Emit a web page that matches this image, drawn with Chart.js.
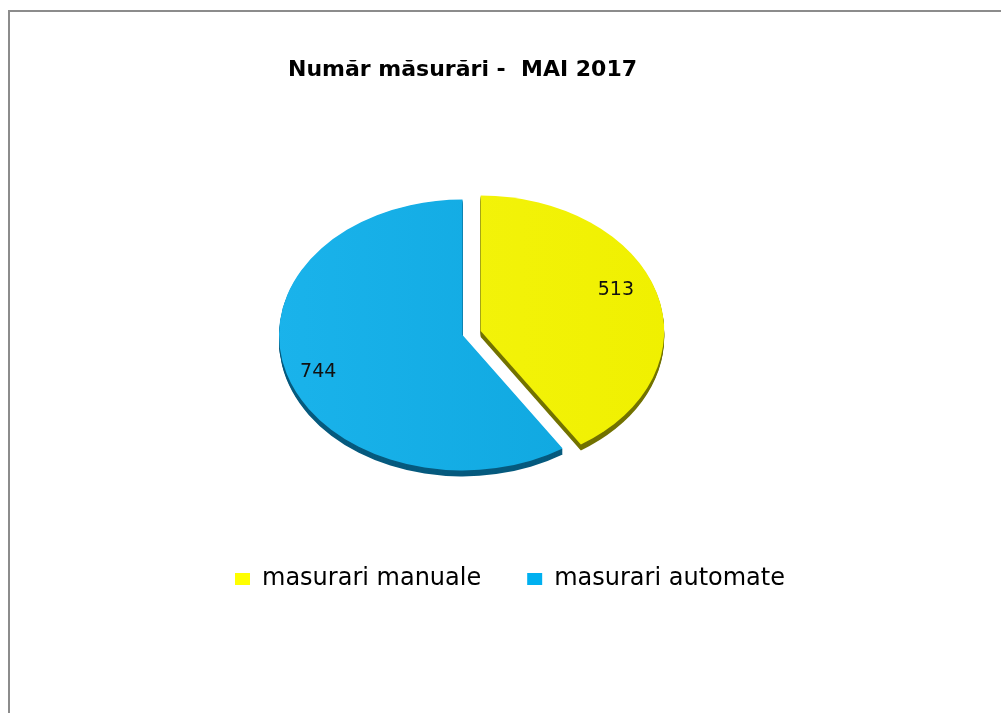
<!DOCTYPE html>
<html><head><meta charset="utf-8">
<script src="https://cdn.jsdelivr.net/npm/chart.js@4.4.0/dist/chart.umd.min.js"></script>
<style>
html,body{margin:0;padding:0;background:#fff;}
#wrap{position:relative;width:1001px;height:713px;overflow:hidden;background:#fff;}
#frame{position:absolute;left:8px;top:10px;width:1100px;height:800px;border-left:2px solid #8c8c8c;border-top:2px solid #8c8c8c;}
canvas{position:absolute;left:0;top:0;}
</style></head><body>
<div id="wrap"><div id="frame"></div><canvas id="c" width="1001" height="713"></canvas></div>
<script>
// ---- data ----
const categories = ['masurari manuale', 'masurari automate'];
const values = [513, 744];
const titleText = 'Număr măsurări -  MAI 2017';

// ---- styles ----
const faceColors = ['#f0f000', '#0ea6de'];
const faceLight = ['#f5f512', '#1ab3eb'];
const sideColors = ['#727200', '#065a7e'];
const legendColors = ['#ffff00', '#00b0f0'];
const explodeDist = [19, 0];
const labelRadius = [0.796, 0.833];
const labelAngleShift = [-5.7, -2.7];
const squash = 0.738;
const depth = 6;

function explodeVec(arc, i) {
  const p = arc.getProps(['startAngle', 'endAngle']);
  const mid = (p.startAngle + p.endAngle) / 2;
  return { x: Math.cos(mid) * explodeDist[i], y: Math.sin(mid) * explodeDist[i] };
}

const pie3d = {
  id: 'pie3d',
  beforeDatasetsDraw(chart) {
    const arcs = chart.getDatasetMeta(0).data;
    const ctx = chart.ctx;
    const cy = arcs[0].y;
    arcs.forEach((arc, i) => {
      if (!arc._exploded) {
        const orig = arc.draw;
        arc.draw = function (c) {
          const v = explodeVec(this, i);
          c.save(); c.translate(v.x, v.y); orig.call(this, c); c.restore();
        };
        arc._exploded = true;
      }
    });
    ctx.save();
    ctx.translate(0, cy); ctx.scale(1, squash); ctx.translate(0, -cy);
    for (let d = depth; d >= 1; d--) {
      arcs.forEach((arc, i) => {
        const p = arc.getProps(['x', 'y', 'startAngle', 'endAngle', 'outerRadius']);
        const v = explodeVec(arc, i);
        const ox = p.x + v.x;
        const oy = p.y + v.y + d / squash;
        ctx.beginPath();
        ctx.moveTo(ox, oy);
        ctx.arc(ox, oy, p.outerRadius, p.startAngle, p.endAngle);
        ctx.closePath();
        ctx.fillStyle = sideColors[i];
        ctx.fill();
      });
    }
  },
  afterDatasetsDraw(chart) {
    const ctx = chart.ctx;
    ctx.restore();
    const arcs = chart.getDatasetMeta(0).data;
    const cy = arcs[0].y;
    ctx.save();
    ctx.font = '19px "DejaVu Sans"';
    ctx.fillStyle = '#111';
    ctx.textAlign = 'center';
    ctx.textBaseline = 'middle';
    arcs.forEach((arc, i) => {
      const p = arc.getProps(['x', 'y', 'startAngle', 'endAngle', 'outerRadius']);
      const v = explodeVec(arc, i);
      const ang = (p.startAngle + p.endAngle) / 2 + labelAngleShift[i] * Math.PI / 180;
      const r = p.outerRadius * labelRadius[i];
      const lx = p.x + v.x + Math.cos(ang) * r;
      const ly = cy + (p.y + v.y + Math.sin(ang) * r - cy) * squash;
      ctx.fillText(String(values[i]), lx, ly);
    });
    ctx.restore();
  }
};

function faceFill(c) {
  const chart = c.chart;
  const i = c.dataIndex;
  const a = chart.chartArea;
  if (!a) return faceColors[i];
  const cx = (a.left + a.right) / 2;
  const g = chart.ctx.createLinearGradient(cx - 190, 0, cx + 190, 0);
  g.addColorStop(0, faceLight[i]);
  g.addColorStop(1, faceColors[i]);
  return g;
}

new Chart(document.getElementById('c'), {
  type: 'pie',
  data: {
    labels: categories,
    datasets: [{
      data: values,
      backgroundColor: faceFill,
      borderWidth: 0,
      radius: 183.5,
      clip: false
    }]
  },
  options: {
    responsive: false,
    animation: false,
    devicePixelRatio: 1,
    layout: { padding: { left: 94, right: 170, top: 0, bottom: 112 } },
    plugins: {
      title: {
        display: true,
        text: titleText,
        color: '#000',
        font: { family: 'DejaVu Sans', size: 22, weight: 'bold', lineHeight: 1.2 },
        padding: { top: 56.8, bottom: 65.8 }
      },
      legend: {
        position: 'bottom',
        align: 'end',
        labels: {
          boxWidth: 15,
          boxHeight: 12,
          padding: 46,
          color: '#000',
          font: { family: 'DejaVu Sans', size: 24 },
          generateLabels(chart) {
            const items = Chart.overrides.pie.plugins.legend.labels.generateLabels(chart);
            return items.map((it, i) => Object.assign(it, { fillStyle: legendColors[i], strokeStyle: legendColors[i], lineWidth: 0 }));
          }
        }
      },
      tooltip: { enabled: false }
    }
  },
  plugins: [pie3d]
});
</script>
</body></html>
